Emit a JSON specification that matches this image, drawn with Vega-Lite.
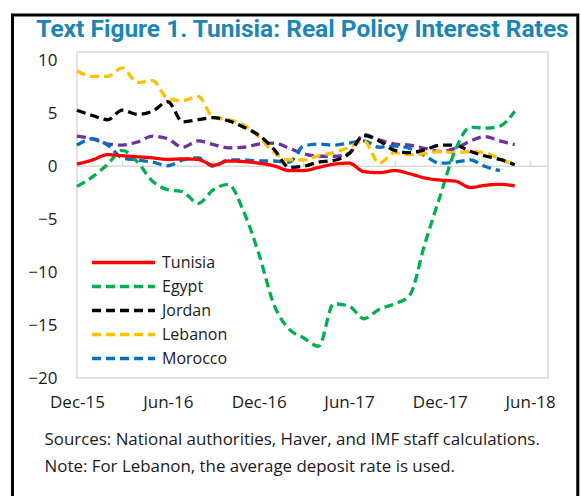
{
  "$schema": "https://vega.github.io/schema/vega-lite/v6.json",
  "width": 471,
  "height": 326,
  "autosize": {"type": "none"},
  "padding": {"left": 77, "top": 52, "right": 33, "bottom": 118},
  "background": "white",
  "config": {
    "view": {"stroke": "#d9d9d9", "strokeWidth": 1.5},
    "font": "Open Sans"
  },
  "title": {
    "text": "Text Figure 1. Tunisia: Real Policy Interest Rates",
    "font": "Roboto",
    "fontSize": 24.5,
    "fontWeight": "bold",
    "color": "#1b86b3",
    "anchor": "middle",
    "frame": "group",
    "baseline": "alphabetic",
    "offset": -48,
    "dx": -10
  },
  "resolve": {"axis": {"x": "independent"}},
  "layer": [
    {
      "data": {"values": [{}]},
      "mark": {"type": "rect", "filled": false, "color": "#000", "strokeWidth": 3, "clip": false},
      "encoding": {
        "x": {
          "datum": {"year": 2015, "month": 7, "date": 24},
          "type": "temporal",
          "scale": {"domain": [{"year": 2015, "month": 12, "date": 1}, {"year": 2018, "month": 7, "date": 7}]},
          "axis": {
            "orient": "bottom",
            "offset": -211.7,
            "title": null,
            "labels": false,
            "domain": false,
            "grid": false,
            "ticks": true,
            "tickSize": -6,
            "tickColor": "#d9d9d9",
            "tickWidth": 1.5,
            "values": [
              {"year": 2015, "month": 12, "date": 1},
              {"year": 2016, "month": 3, "date": 1},
              {"year": 2016, "month": 6, "date": 1},
              {"year": 2016, "month": 9, "date": 1},
              {"year": 2016, "month": 12, "date": 1},
              {"year": 2017, "month": 3, "date": 1},
              {"year": 2017, "month": 6, "date": 1},
              {"year": 2017, "month": 9, "date": 1},
              {"year": 2017, "month": 12, "date": 1},
              {"year": 2018, "month": 3, "date": 1},
              {"year": 2018, "month": 6, "date": 1}
            ]
          }
        },
        "x2": {"datum": {"year": 2018, "month": 9, "date": 5}},
        "y": {"datum": 14.3, "type": "quantitative", "scale": {"domain": [-20, 10.8], "nice": false, "zero": false}},
        "y2": {"datum": -40}
      }
    },
    {
      "data": {"values": [{}]},
      "mark": {"type": "rule", "color": "#d9d9d9", "strokeWidth": 1.5},
      "encoding": {
        "y": {"datum": 0, "type": "quantitative"}
      }
    },
    {
      "data": {
        "values": [
          {"date": "2015-12-01T00:00:00", "Tunisia": 0.2, "Egypt": -1.9, "Jordan": 5.3, "Lebanon": 9.0, "Morocco": 2.0, "Other": 2.85},
          {"date": "2016-01-01T00:00:00", "Tunisia": 0.6, "Egypt": -1.0, "Jordan": 4.8, "Lebanon": 8.5, "Morocco": 2.6, "Other": 2.6},
          {"date": "2016-02-01T00:00:00", "Tunisia": 1.1, "Egypt": 0.2, "Jordan": 4.4, "Lebanon": 8.5, "Morocco": 2.0, "Other": 2.1},
          {"date": "2016-03-01T00:00:00", "Tunisia": 1.0, "Egypt": 1.5, "Jordan": 5.3, "Lebanon": 9.3, "Morocco": 0.8, "Other": 2.0},
          {"date": "2016-04-01T00:00:00", "Tunisia": 0.9, "Egypt": 0.4, "Jordan": 4.9, "Lebanon": 7.9, "Morocco": 0.6, "Other": 2.3},
          {"date": "2016-05-01T00:00:00", "Tunisia": 0.8, "Egypt": -1.4, "Jordan": 5.2, "Lebanon": 8.1, "Morocco": 0.4, "Other": 2.85},
          {"date": "2016-06-01T00:00:00", "Tunisia": 0.65, "Egypt": -2.2, "Jordan": 6.1, "Lebanon": 6.4, "Morocco": 0.05, "Other": 2.6},
          {"date": "2016-07-01T00:00:00", "Tunisia": 0.7, "Egypt": -2.4, "Jordan": 4.2, "Lebanon": 6.2, "Morocco": 0.6, "Other": 1.8},
          {"date": "2016-08-01T00:00:00", "Tunisia": 0.65, "Egypt": -3.5, "Jordan": 4.4, "Lebanon": 6.6, "Morocco": 0.8, "Other": 2.4},
          {"date": "2016-09-01T00:00:00", "Tunisia": 0.1, "Egypt": -2.2, "Jordan": 4.6, "Lebanon": 4.6, "Morocco": 0.0, "Other": 2.05},
          {"date": "2016-10-01T00:00:00", "Tunisia": 0.5, "Egypt": -1.7, "Jordan": 4.3, "Lebanon": 4.4, "Morocco": 0.6, "Other": 1.75},
          {"date": "2016-11-01T00:00:00", "Tunisia": 0.45, "Egypt": -4.3, "Jordan": 3.7, "Lebanon": 3.9, "Morocco": 0.6, "Other": 1.8},
          {"date": "2016-12-01T00:00:00", "Tunisia": 0.3, "Egypt": -8.2, "Jordan": 2.95, "Lebanon": 2.8, "Morocco": 0.5, "Other": 2.1},
          {"date": "2017-01-01T00:00:00", "Tunisia": 0.05, "Egypt": -13.1, "Jordan": 1.6, "Lebanon": 1.3, "Morocco": 0.5, "Other": 2.2},
          {"date": "2017-02-01T00:00:00", "Tunisia": -0.4, "Egypt": -15.4, "Jordan": -0.1, "Lebanon": 0.6, "Morocco": 0.4, "Other": 1.7},
          {"date": "2017-03-01T00:00:00", "Tunisia": -0.4, "Egypt": -16.2, "Jordan": 0.0, "Lebanon": 0.6, "Morocco": 1.9, "Other": 1.2},
          {"date": "2017-04-01T00:00:00", "Tunisia": -0.1, "Egypt": -17.0, "Jordan": 0.4, "Lebanon": 1.0, "Morocco": 2.1, "Other": 0.95},
          {"date": "2017-05-01T00:00:00", "Tunisia": 0.2, "Egypt": -13.0, "Jordan": 0.55, "Lebanon": 1.3, "Morocco": 2.0, "Other": 0.95},
          {"date": "2017-06-01T00:00:00", "Tunisia": 0.3, "Egypt": -13.2, "Jordan": 1.2, "Lebanon": 1.8, "Morocco": 2.2, "Other": 1.2},
          {"date": "2017-07-01T00:00:00", "Tunisia": -0.5, "Egypt": -14.4, "Jordan": 2.9, "Lebanon": 2.4, "Morocco": 2.4, "Other": 3.0},
          {"date": "2017-08-01T00:00:00", "Tunisia": -0.6, "Egypt": -13.5, "Jordan": 2.4, "Lebanon": 0.3, "Morocco": 1.8, "Other": 2.5},
          {"date": "2017-09-01T00:00:00", "Tunisia": -0.4, "Egypt": -13.0, "Jordan": 1.5, "Lebanon": 1.3, "Morocco": 1.9, "Other": 2.1},
          {"date": "2017-10-01T00:00:00", "Tunisia": -0.7, "Egypt": -12.2, "Jordan": 1.3, "Lebanon": 1.1, "Morocco": 1.7, "Other": 2.0},
          {"date": "2017-11-01T00:00:00", "Tunisia": -1.1, "Egypt": -7.3, "Jordan": 1.55, "Lebanon": 1.2, "Morocco": 1.0, "Other": 1.7},
          {"date": "2017-12-01T00:00:00", "Tunisia": -1.3, "Egypt": -2.9, "Jordan": 2.0, "Lebanon": 1.4, "Morocco": 0.3, "Other": 1.4},
          {"date": "2018-01-01T00:00:00", "Tunisia": -1.4, "Egypt": 1.5, "Jordan": 2.0, "Lebanon": 1.3, "Morocco": 0.4, "Other": 1.7},
          {"date": "2018-02-01T00:00:00", "Tunisia": -2.0, "Egypt": 3.7, "Jordan": 1.4, "Lebanon": 1.4, "Morocco": 0.6, "Other": 2.4},
          {"date": "2018-03-01T00:00:00", "Tunisia": -1.8, "Egypt": 3.6, "Jordan": 1.0, "Lebanon": 1.3, "Morocco": 0.0, "Other": 2.8},
          {"date": "2018-04-01T00:00:00", "Tunisia": -1.7, "Egypt": 3.8, "Jordan": 0.65, "Lebanon": 0.7, "Morocco": -0.4, "Other": 2.4},
          {"date": "2018-05-01T00:00:00", "Tunisia": -1.85, "Egypt": 5.2, "Jordan": 0.15, "Lebanon": 0.15, "Morocco": null, "Other": 2.05}
        ]
      },
      "transform": [
        {"fold": ["Other", "Morocco", "Lebanon", "Jordan", "Egypt", "Tunisia"], "as": ["series", "value"]}
      ],
      "mark": {"type": "line", "interpolate": "monotone", "strokeWidth": 3.3},
      "encoding": {
        "x": {
          "field": "date",
          "type": "temporal",
          "axis": {
            "orient": "bottom",
            "values": [
              {"year": 2015, "month": 12, "date": 1},
              {"year": 2016, "month": 6, "date": 1},
              {"year": 2016, "month": 12, "date": 1},
              {"year": 2017, "month": 6, "date": 1},
              {"year": 2017, "month": 12, "date": 1},
              {"year": 2018, "month": 6, "date": 1}
            ],
            "format": "%b-%y",
            "domain": false,
            "ticks": false,
            "tickSize": 0,
            "grid": false,
            "labelFontSize": 17,
            "labelColor": "#1a1a1a",
            "labelPadding": 16,
            "labelFlush": false,
            "labelOverlap": false,
            "title": ["Sources: National authorities, Haver, and IMF staff calculations.", "Note: For Lebanon, the average deposit rate is used."],
            "titleFontSize": 16.9,
            "titleFontWeight": "normal",
            "titleColor": "#1a1a1a",
            "titleAlign": "left",
            "titleAnchor": "start",
            "titleBaseline": "top",
            "titleAngle": 0,
            "titleX": -33,
            "titleY": 53,
            "titleLineHeight": 27
          }
        },
        "y": {
          "field": "value",
          "type": "quantitative",
          "axis": {
            "values": [-20, -15, -10, -5, 0, 5, 10],
            "title": null,
            "domain": false,
            "ticks": false,
            "tickSize": 0,
            "grid": false,
            "labelFontSize": 17,
            "labelColor": "#1a1a1a",
            "labelPadding": 20
          }
        },
        "color": {
          "field": "series",
          "type": "nominal",
          "scale": {
            "domain": ["Tunisia", "Egypt", "Jordan", "Lebanon", "Morocco", "Other"],
            "range": ["#ff0000", "#00b050", "#000000", "#ffc000", "#0070c0", "#7030a0"]
          },
          "legend": {
            "values": ["Tunisia", "Egypt", "Jordan", "Lebanon", "Morocco"],
            "title": null,
            "orient": "none",
            "legendX": 13,
            "legendY": 202,
            "symbolType": "stroke",
            "symbolSize": 3969,
            "symbolStrokeWidth": 3.3,
            "clipHeight": 17,
            "labelFontSize": 16,
            "labelColor": "#1a1a1a",
            "labelOffset": 5,
            "rowPadding": 7
          }
        },
        "strokeDash": {
          "field": "series",
          "type": "nominal",
          "scale": {
            "domain": ["Tunisia", "Egypt", "Jordan", "Lebanon", "Morocco", "Other"],
            "range": [[1, 0], [9, 5], [9, 5], [9, 5], [9, 5], [9, 5]]
          },
          "legend": {
            "values": ["Tunisia", "Egypt", "Jordan", "Lebanon", "Morocco"],
            "title": null,
            "orient": "none",
            "legendX": 13,
            "legendY": 202,
            "symbolType": "stroke",
            "symbolSize": 3969,
            "symbolStrokeWidth": 3.3,
            "clipHeight": 17,
            "labelFontSize": 16,
            "labelColor": "#1a1a1a",
            "labelOffset": 5,
            "rowPadding": 7
          }
        }
      }
    }
  ]
}
